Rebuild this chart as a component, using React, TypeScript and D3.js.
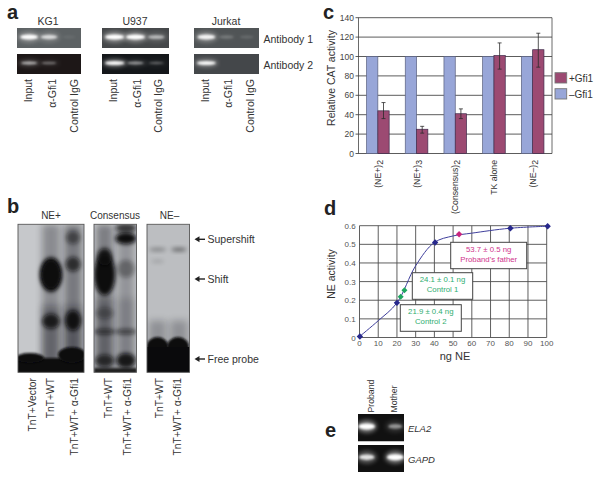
import React from "react";
import * as d3 from "d3";

const FONT = "'Liberation Sans', Arial, sans-serif";
const INK = "#333";

// Panel a
type Band = [number, number, number, number, number];
type Smear = [number, number, number, number];
const cellLines = ["KG1", "U937", "Jurkat"];
const antibodies = ["Antibody 1", "Antibody 2"];
const pullLanes = ["Input", "α-Gfi1", "Control IgG"];
const kg1Ab1 = [0.9, 0.7, 0.06];
const kg1Ab2 = [0.6, 0.35, 0];
const u937Ab1 = [1, 0.95, 0.55];
const u937Ab2 = [1, 0.5, 0.3];
const jurkatAb1 = [0.85, 0.2, 0.12];
const jurkatAb2 = [1, 0, 0];

// Panel b
const shiftGroups = ["NE+", "Consensus", "NE–"];
const neLanes = ["TnT+Vector", "TnT+WT", "TnT+WT+ α-Gfi1"];
const consLanes = ["TnT+WT", "TnT+WT+ α-Gfi1"];
const negLanes = ["TnT+WT", "TnT+WT+ α-Gfi1"];
const arrowLabels = ["Supershift", "Shift", "Free probe"];
// band: [lane, migration, darkness, half-width in lanes, half-height in gel fractions]
const neBands: Band[] = [
  [1, 0.34, 1, 0.5, 0.115], [1, 0.34, 0.9, 0.42, 0.095], [1, 0.655, 0.85, 0.4, 0.05],
  [2, 0.09, 0.5, 0.32, 0.045], [2, 0.27, 0.7, 0.34, 0.05], [2, 0.65, 0.95, 0.36, 0.07],
];
const consBands: Band[] = [
  [0, 0.34, 1, 0.5, 0.14], [0, 0.22, 0.9, 0.34, 0.06], [1, 0.095, 1, 0.5, 0.04], [1, 0.025, 0.7, 0.5, 0.03],
  [1, 0.3, 0.35, 0.42, 0.06], [0, 0.6, 0.35, 0.42, 0.04], [0, 0.725, 0.6, 0.5, 0.02], [1, 0.725, 0.55, 0.5, 0.02],
  [0, 0.92, 0.7, 0.45, 0.04], [1, 0.92, 0.9, 0.45, 0.05],
];
const negBands: Band[] = [
  [0, 0.17, 0.32, 0.4, 0.012], [1, 0.17, 0.5, 0.36, 0.012], [0, 0.25, 0.14, 0.3, 0.012],
];
// smear: [lane, from, to, darkness]
const neSmears: Smear[] = [[1, 0, 0.95, 0.32], [2, 0, 0.95, 0.42], [1, 0.55, 0.95, 0.3], [2, 0.55, 0.95, 0.3]];
const consSmears: Smear[] = [[0, 0, 1, 0.4], [1, 0, 1, 0.28], [0, 0.5, 1, 0.25], [1, 0.5, 1, 0.15]];
const negSmears: Smear[] = [[0, 0.65, 0.85, 0.25], [1, 0.65, 0.85, 0.25]];

// Panel c
const constructs = ["(NE+)|2", "(NE+)|3", "(Consensus)|2", "TK alone", "(NE–)|2"];
const minusGfi = [100, 100, 100, 100, 100];
const plusGfi = [44, 25, 41, 101, 107];
const plusLow = [36, 21, 36, 87, 89];
const plusHigh = [52.5, 28, 46, 114, 124];
const legendNames = ["+Gfi1", "–Gfi1"];
const catTicks = [0, 20, 40, 60, 80, 100, 120, 140];

// Panel d
const curveX = [0, 10, 20, 30, 40, 50, 60, 80, 100];
const curveY = [0.005, 0.09, 0.186, 0.385, 0.51, 0.545, 0.56, 0.586, 0.597];
const standardX = [0.2, 20, 40.4, 80.6, 100.5];
const standardY = [0.005, 0.186, 0.51, 0.586, 0.597];
const controlX = [22, 24];
const controlY = [0.219, 0.253];
const fatherX = [53.2];
const fatherY = [0.554];
const xTicks = [0, 10, 20, 30, 40, 50, 60, 70, 80, 90, 100];
const yTicks = [0, 0.1, 0.2, 0.3, 0.4, 0.5, 0.6];

// Panel e
const familyLanes = ["Proband", "Mother"];
const genes = ["ELA2", "GAPD"];
const ela2 = [1, 0.5];
const gapd = [0.8, 1];

function Gel({ id, x, y, w, h, lanes, bg, wide = 0.34, bandH = 2.6 }: any) {
  const sc = d3.scalePoint<number>().domain(lanes.map((_: number, i: number) => i)).range([x + w * 0.19, x + w * 0.81]);
  return (
    <g clipPath={`url(#clip-${id})`}>
      <clipPath id={`clip-${id}`}><rect x={x} y={y} width={w} height={h} /></clipPath>
      <rect x={x} y={y} width={w} height={h} fill={bg} />
      {lanes.map((v: number, i: number) => (
        <g key={i} opacity={Math.min(1, v * 1.1)}>
          <ellipse cx={sc(i)} cy={y + h * 0.45} rx={w * wide * 0.52} ry={bandH * 2.1} fill="#aaa" opacity={v * 0.7} filter="url(#blur3)" />
          <ellipse cx={sc(i)} cy={y + h * 0.45} rx={w * wide * 0.42 * (0.7 + 0.3 * v)} ry={bandH * (0.55 + 0.45 * v)} fill="#fff" filter="url(#blur1)" />
        </g>
      ))}
    </g>
  );
}

function Blot({ id, x, y, w, h, lanes, bands, smears, bg, children }: any) {
  const step = w / lanes;
  return (
    <g>
      <clipPath id={`clip-${id}`}><rect x={x} y={y} width={w} height={h} /></clipPath>
      <g clipPath={`url(#clip-${id})`}>
        <rect x={x} y={y} width={w} height={h} fill={bg} />
        {smears.map(([l, a, b, v]: Smear, i: number) => (
          <rect key={i} x={x + step * (l + 0.1)} y={y + h * a} width={step * 0.8} height={h * (b - a)} fill="#101014" opacity={v} filter="url(#blur4)" />
        ))}
        {children}
        {bands.map(([l, f, v, rw, rh]: Band, i: number) => (
          <ellipse key={i} cx={x + step * (l + 0.5)} cy={y + h * f} rx={step * rw} ry={h * rh} fill="#08080a" opacity={v} filter="url(#blur2)" />
        ))}
      </g>
      <rect x={x} y={y} width={w} height={h} fill="none" stroke="#555" strokeWidth={0.9} />
    </g>
  );
}

export default function App() {
  const tx = { fontFamily: FONT, fill: INK };

  const aTop = 28, aTopH = 20, aBotY = 54, aBotH = 20;
  const aGels = [
    { x: 17, w: 64, top: kg1Ab1, bot: kg1Ab2, labels: [28, 52, 74], c: 48, bgT: "#5d6264", bgB: "#1d1717" },
    { x: 102, w: 67, top: u937Ab1, bot: u937Ab2, labels: [113, 137, 158], c: 135, bgT: "#45484a", bgB: "#14171a" },
    { x: 194, w: 65, top: jurkatAb1, bot: jurkatAb2, labels: [205, 228, 250], c: 226, bgT: "#505456", bgB: "#44474a" },
  ];

  const cy = d3.scaleLinear().domain([0, 140]).range([153.5, 17.7]);
  const cx = d3.scaleBand<string>().domain(constructs).range([358.5, 552]);
  const bw = 11.3;
  const center = (c: string) => (cx(c) as number) + cx.bandwidth() / 2;

  const dx = d3.scaleLinear().domain([0, 100]).range([359.5, 546.7]);
  const dy = d3.scaleLinear().domain([0, 0.6]).range([337.5, 225.7]);
  const line = d3.line<number>().x((v) => dx(v)).y((_, i) => dy(curveY[i])).curve(d3.curveCatmullRom.alpha(0.5));
  const diamond = (x: number, y: number, r: number) => `M${x},${y - r}L${x + r},${y}L${x},${y + r}L${x - r},${y}Z`;
  const boxes = [
    { x: 450.7, y: 242.3, w: 76, h: 26.4, c: "#d0348c", t: ["53.7 ± 0.5 ng", "Proband's father"] },
    { x: 412.3, y: 272.7, w: 60.4, h: 26.6, c: "#2fae70", t: ["24.1 ± 0.1 ng", "Control 1"] },
    { x: 400.3, y: 304.7, w: 61, h: 26.6, c: "#2fae70", t: ["21.9 ± 0.4 ng", "Control 2"] },
  ];

  return (
    <svg width={601} height={480} style={{ position: "absolute", left: 0, top: 0, background: "#fff" }}>
      <defs>
        <filter id="blur1" x="-50%" y="-100%" width="200%" height="300%"><feGaussianBlur stdDeviation="1" /></filter>
        <filter id="blur2" x="-60%" y="-100%" width="220%" height="300%"><feGaussianBlur stdDeviation="2.2" /></filter>
        <filter id="blur3" x="-50%" y="-100%" width="200%" height="300%"><feGaussianBlur stdDeviation="2" /></filter>
        <filter id="blur4" x="-100%" y="-30%" width="300%" height="160%"><feGaussianBlur stdDeviation="3.5" /></filter>
      </defs>

      {[["a", 7, 19], ["b", 7, 212.5], ["c", 323, 19], ["d", 324, 214.5], ["e", 325, 437]].map(([l, x, y]) => (
        <text key={l as string} x={x as number} y={y as number} fontFamily={FONT} fontWeight="bold" fontSize={20} fill="#222">{l}</text>
      ))}

      {aGels.map((g, i) => (
        <g key={i}>
          <text x={g.c} y={25} textAnchor="middle" fontSize={10.5} {...tx}>{cellLines[i]}</text>
          <Gel id={`a${i}t`} x={g.x} y={aTop} w={g.w} h={aTopH} lanes={g.top} bg={g.bgT} bandH={2.6} />
          <Gel id={`a${i}b`} x={g.x} y={aBotY} w={g.w} h={aBotH} lanes={g.bot} bg={g.bgB} bandH={1.8} />
          {pullLanes.map((p, j) => (
            <text key={p} transform={`translate(${g.labels[j]},79) rotate(-90)`} textAnchor="end" dy="0.36em" fontSize={10.5} {...tx}>{p}</text>
          ))}
        </g>
      ))}
      {antibodies.map((a, i) => (
        <text key={a} x={263.5} y={[43, 69][i]} fontSize={10.5} {...tx}>{a}</text>
      ))}

      {shiftGroups.map((s, i) => (
        <text key={s} x={[51, 115, 169.5][i]} y={219} textAnchor="middle" fontSize={10} {...tx}>{s}</text>
      ))}
      <Blot id="ne" x={18} y={224.3} w={66} h={148} lanes={3} bands={neBands} smears={neSmears} bg="#c6c8cb">
        <rect x={14} y={358} width={74} height={20} fill="#0a0a0c" filter="url(#blur1)" />
        <ellipse cx={30} cy={358} rx={14} ry={5} fill="#0a0a0c" filter="url(#blur1)" />
        <ellipse cx={72} cy={355} rx={14} ry={8} fill="#0a0a0c" filter="url(#blur1)" />
      </Blot>
      <Blot id="cons" x={94} y={224.3} w={42.5} h={148} lanes={2} bands={consBands} smears={consSmears} bg="#c8cacd">
        <rect x={94} y={368} width={43} height={6} fill="#222" filter="url(#blur1)" />
      </Blot>
      <Blot id="neg" x={147} y={224.3} w={42.5} h={148} lanes={2} bands={negBands} smears={negSmears} bg="#bcbec1">
        <ellipse cx={157.5} cy={347} rx={11} ry={10} fill="#0a0a0c" filter="url(#blur1)" />
        <ellipse cx={178} cy={347} rx={11} ry={10} fill="#0a0a0c" filter="url(#blur1)" />
        <rect x={147} y={347} width={43} height={26} fill="#0a0a0c" />
      </Blot>
      {arrowLabels.map((a, i) => {
        const y = [239.3, 279, 359][i];
        return (
          <g key={a}>
            <line x1={197} x2={205} y1={y} y2={y} stroke="#222" strokeWidth={1.4} />
            <path d={`M194.5,${y}L199.5,${y - 3}L199.5,${y + 3}Z`} fill="#222" />
            <text x={207.5} y={y + 3.7} fontSize={10.5} {...tx}>{a}</text>
          </g>
        );
      })}
      {[
        ...neLanes.map((t, i) => [t, [32, 50, 74][i]]),
        ...consLanes.map((t, i) => [t, [108, 127][i]]),
        ...negLanes.map((t, i) => [t, [159, 177][i]]),
      ].map(([t, x], i) => (
        <text key={i} transform={`translate(${x},378) rotate(-90)`} textAnchor="end" dy="0.36em" fontSize={10.3} {...tx}>{t}</text>
      ))}

      {catTicks.map((t) => (
        <g key={t}>
          <line x1={355.5} x2={552} y1={cy(t)} y2={cy(t)} stroke="#4a4a4a" strokeWidth={0.9} />
          <text x={354} y={cy(t) + 3} textAnchor="end" fontSize={8.5} fill="#444" fontFamily={FONT}>{t}</text>
        </g>
      ))}
      <line x1={358.5} x2={358.5} y1={17.7} y2={153.5} stroke="#444" strokeWidth={0.8} />
      <line x1={552} x2={552} y1={17.7} y2={153.5} stroke="#444" strokeWidth={0.8} />
      {constructs.map((c, i) => {
        const m = center(c);
        const [main, sub] = c.split("|");
        return (
          <g key={c}>
            <rect x={m - bw} y={cy(minusGfi[i])} width={bw} height={cy(0) - cy(minusGfi[i])} fill="#98a6d8" stroke="#59607f" strokeWidth={0.7} />
            <rect x={m} y={cy(plusGfi[i])} width={bw} height={cy(0) - cy(plusGfi[i])} fill="#9c4a72" stroke="#3f2b4c" strokeWidth={0.7} />
            <line x1={m + bw / 2} x2={m + bw / 2} y1={cy(plusLow[i])} y2={cy(plusHigh[i])} stroke="#2b2b2b" strokeWidth={0.8} />
            <line x1={m + bw / 2 - 2} x2={m + bw / 2 + 2} y1={cy(plusHigh[i])} y2={cy(plusHigh[i])} stroke="#2b2b2b" strokeWidth={0.8} />
            <line x1={m + bw / 2 - 2} x2={m + bw / 2 + 2} y1={cy(plusLow[i])} y2={cy(plusLow[i])} stroke="#2b2b2b" strokeWidth={0.8} />
            <text transform={`translate(${m},160) rotate(-90)`} textAnchor="end" dy="0.36em" fontSize={8.7} fill="#333" fontFamily={FONT}>
              {main}{sub ? <tspan fontSize={8.7} dy="2">{sub}</tspan> : null}
            </text>
          </g>
        );
      })}
      <text transform="translate(335,78) rotate(-90)" textAnchor="middle" fontSize={10.5} {...tx}>Relative CAT activity</text>
      {legendNames.map((n, i) => (
        <g key={n}>
          <rect x={555} y={72.7 + i * 16} width={11.7} height={10.3} fill={i === 0 ? "#9c4a72" : "#98a6d8"} stroke="#777" strokeWidth={0.9} />
          <text x={569} y={81.5 + i * 16} fontSize={10} {...tx}>{n}</text>
        </g>
      ))}

      {xTicks.map((t) => (
        <g key={t}>
          <line x1={dx(t)} x2={dx(t)} y1={dy(0.6)} y2={dy(0)} stroke="#4d4d4d" strokeWidth={0.9} />
          <text x={dx(t)} y={346} textAnchor="middle" fontSize={8} fill="#555" fontFamily={FONT}>{t}</text>
        </g>
      ))}
      {yTicks.map((t) => (
        <g key={t}>
          <line x1={dx(0)} x2={dx(100)} y1={dy(t)} y2={dy(t)} stroke="#4d4d4d" strokeWidth={0.9} />
          <text x={355.7} y={dy(t) + 3} textAnchor="end" fontSize={8} fill="#555" fontFamily={FONT}>{t}</text>
        </g>
      ))}
      <path d={line(curveX) as string} fill="none" stroke="#3f3f9c" strokeWidth={1} />
      {standardX.map((x, i) => <path key={i} d={diamond(dx(x), dy(standardY[i]), 3.2)} fill="#27288c" />)}
      {controlX.map((x, i) => <path key={i} d={diamond(dx(x), dy(controlY[i]), 3)} fill="#1fa65f" />)}
      {fatherX.map((x, i) => <path key={i} d={diamond(dx(x), dy(fatherY[i]), 3.2)} fill="#c9267e" />)}
      {boxes.map((b) => (
        <g key={b.t[1]}>
          <rect x={b.x} y={b.y} width={b.w} height={b.h} fill="#fff" stroke="#444" strokeWidth={1} />
          {b.t.map((s, i) => (
            <text key={s} x={b.x + b.w / 2} y={b.y + 9.5 + i * 9.7} textAnchor="middle" fontSize={7.8} fill={b.c} fontFamily={FONT}>{s}</text>
          ))}
        </g>
      ))}
      <text x={455} y={360} textAnchor="middle" fontSize={11} {...tx}>ng NE</text>
      <text transform="translate(335,274) rotate(-90)" textAnchor="middle" fontSize={10.5} {...tx}>NE activity</text>

      <Gel id="e0" x={358} y={414} w={46} h={27.5} lanes={ela2} bg="#111" wide={0.42} bandH={3} />
      <Gel id="e1" x={358} y={445} w={46} h={27} lanes={gapd} bg="#111" wide={0.42} bandH={3} />
      {familyLanes.map((n, i) => (
        <text key={n} transform={`translate(${[370.5, 393.5][i]},412.5) rotate(-90)`} dy="0.36em" fontSize={8.7} {...tx}>{n}</text>
      ))}
      {genes.map((g, i) => (
        <text key={g} x={408} y={[432, 463][i]} fontSize={9.5} fontStyle="italic" {...tx}>{g}</text>
      ))}
    </svg>
  );
}
